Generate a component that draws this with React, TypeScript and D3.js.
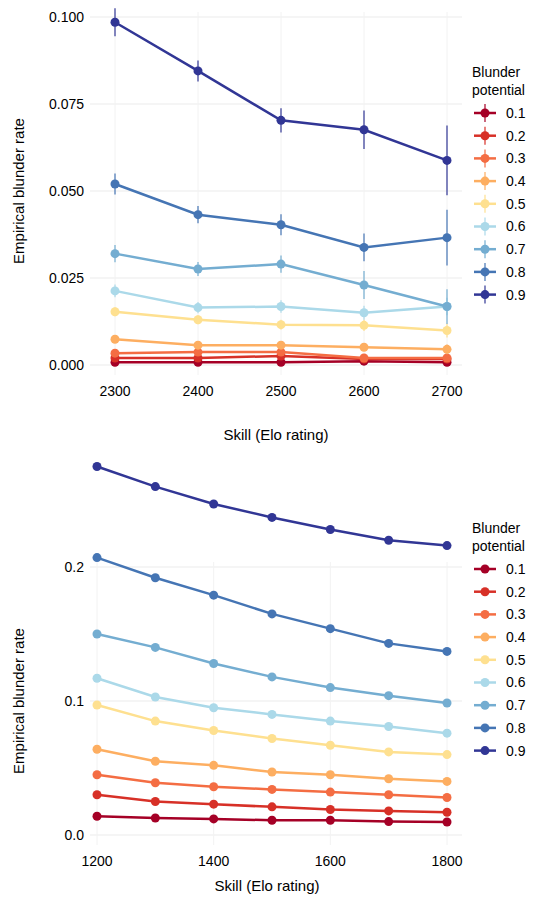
import * as d3 from "d3";

const levels = ["0.1", "0.2", "0.3", "0.4", "0.5", "0.6", "0.7", "0.8", "0.9"];
const colors = ["#a50026", "#d73027", "#f46d43", "#fdae61", "#fee090", "#abd9e9", "#74add1", "#4575b4", "#313695"];

const topSkill = [2300, 2400, 2500, 2600, 2700];
const topRates = [
  [0.0008, 0.0008, 0.0008, 0.0011, 0.0008],
  [0.002, 0.002, 0.0026, 0.0017, 0.0017],
  [0.0034, 0.0037, 0.0037, 0.002, 0.002],
  [0.0074, 0.0057, 0.0057, 0.0051, 0.0045],
  [0.0153, 0.013, 0.0116, 0.0114, 0.0099],
  [0.0213, 0.0165, 0.0168, 0.015, 0.0168],
  [0.032, 0.0276, 0.029, 0.023, 0.0168],
  [0.052, 0.0432, 0.0403, 0.0338, 0.0366],
  [0.0985, 0.0845, 0.0703, 0.0676, 0.0588],
];
const topErr = [
  [0.0003, 0.0003, 0.0003, 0.0004, 0.0004],
  [0.0005, 0.0005, 0.0006, 0.0006, 0.0007],
  [0.0006, 0.0007, 0.0008, 0.0008, 0.0009],
  [0.0009, 0.0009, 0.001, 0.0011, 0.0014],
  [0.0013, 0.0013, 0.0014, 0.0016, 0.002],
  [0.0018, 0.0016, 0.0018, 0.002, 0.0025],
  [0.0025, 0.002, 0.0025, 0.004, 0.005],
  [0.003, 0.0025, 0.003, 0.004, 0.008],
  [0.004, 0.003, 0.0035, 0.0055, 0.01],
];

const botSkill = [1200, 1300, 1400, 1500, 1600, 1700, 1800];
const botRates = [
  [0.014, 0.0127, 0.012, 0.011, 0.011, 0.01, 0.0097],
  [0.03, 0.025, 0.023, 0.021, 0.019, 0.018, 0.017],
  [0.045, 0.039, 0.036, 0.034, 0.032, 0.03, 0.028],
  [0.064, 0.055, 0.052, 0.047, 0.045, 0.042, 0.04],
  [0.097, 0.085, 0.078, 0.072, 0.067, 0.062, 0.06],
  [0.117, 0.103, 0.095, 0.09, 0.085, 0.081, 0.076],
  [0.15, 0.14, 0.128, 0.118, 0.11, 0.104, 0.0985],
  [0.207, 0.192, 0.179, 0.165, 0.154, 0.143, 0.137],
  [0.275, 0.26, 0.247, 0.237, 0.228, 0.22, 0.216],
];

const topYTicks = [0, 0.025, 0.05, 0.075, 0.1];
const botYTicks = [0, 0.1, 0.2];

const font = "Liberation Sans, Arial, sans-serif";

function Panel(props: {
  skill: number[]; rates: number[][]; err?: number[][]; legendY: number; titleY: number;
  xDom: [number, number]; xRange: [number, number]; xTicks: number[];
  yDom: [number, number]; yRange: [number, number]; yTicks: number[]; yFmt: (v: number) => string;
}) {
  const { skill, rates, err, legendY } = props;
  const x = d3.scaleLinear().domain(props.xDom).range(props.xRange);
  const y = d3.scaleLinear().domain(props.yDom).range(props.yRange);
  const line = d3.line<number>().x((_, i) => x(skill[i])).y((d) => y(d));
  const [left, right] = [90, 462];
  const [yb, yt] = props.yRange;
  return (
    <g>
      {props.yTicks.map((t) => (
        <g key={t}>
          <line x1={left} x2={right} y1={y(t)} y2={y(t)} stroke="#ebebeb" strokeWidth={1} />
          <text x={left - 6} y={y(t)} dy="0.35em" textAnchor="end" fontSize={14} fill="#000">{props.yFmt(t)}</text>
        </g>
      ))}
      {props.xTicks.map((t) => (
        <g key={t}>
          <line x1={x(t)} x2={x(t)} y1={yb + 10} y2={yt - 5} stroke="#f2f2f2" strokeWidth={1} />
          <text x={x(t)} y={yb + 31} textAnchor="middle" fontSize={14}>{t}</text>
        </g>
      ))}
      {rates.map((r, k) => (
        <g key={k}>
          <path d={line(r) ?? ""} fill="none" stroke={colors[k]} strokeWidth={2.5} />
          {err && r.map((v, i) => (
            <line key={"e" + i} x1={x(skill[i])} x2={x(skill[i])} y1={y(v - err[k][i])} y2={y(v + err[k][i])} stroke={colors[k]} strokeWidth={1.2} />
          ))}
          {r.map((v, i) => (
            <circle key={i} cx={x(skill[i])} cy={y(v)} r={4.5} fill={colors[k]} />
          ))}
        </g>
      ))}
      <text transform={`translate(24,${(yt + yb) / 2}) rotate(-90)`} textAnchor="middle" fontSize={15}>Empirical blunder rate</text>
      <text x={(props.xRange[0] + props.xRange[1]) / 2 - 5} y={props.titleY} dy="0.35em" textAnchor="middle" fontSize={15}>Skill (Elo rating)</text>
      <g transform={`translate(472,${legendY})`}>
        <text x={0} y={0} fontSize={14}>Blunder</text>
        <text x={0} y={18} fontSize={14}>potential</text>
        {levels.map((l, k) => (
          <g key={l} transform={`translate(0,${36 + k * 22.7})`}>
            <line x1={2} x2={24} y1={0} y2={0} stroke={colors[k]} strokeWidth={2.5} />
            {err && <line x1={13} x2={13} y1={-9} y2={9} stroke={colors[k]} strokeWidth={1.2} />}
            <circle cx={13} cy={0} r={4.5} fill={colors[k]} />
            <text x={34} y={0} dy="0.35em" fontSize={14}>{l}</text>
          </g>
        ))}
      </g>
    </g>
  );
}

export default function App() {
  return (
    <svg width={542} height={898} style={{ position: "absolute", left: 0, top: 0, fontFamily: font, background: "#fff" }}>
      <Panel skill={topSkill} rates={topRates} err={topErr} legendY={77} titleY={435}
        xDom={[2300, 2700]} xRange={[115, 447]} xTicks={topSkill}
        yDom={[0, 0.1]} yRange={[365, 17]} yTicks={topYTicks} yFmt={(v) => v.toFixed(3)} />
      <Panel skill={botSkill} rates={botRates} legendY={533} titleY={886}
        xDom={[1200, 1800]} xRange={[97, 447]} xTicks={[1200, 1400, 1600, 1800]}
        yDom={[0, 0.2]} yRange={[835, 567]} yTicks={botYTicks} yFmt={(v) => v.toFixed(1)} />
    </svg>
  );
}
